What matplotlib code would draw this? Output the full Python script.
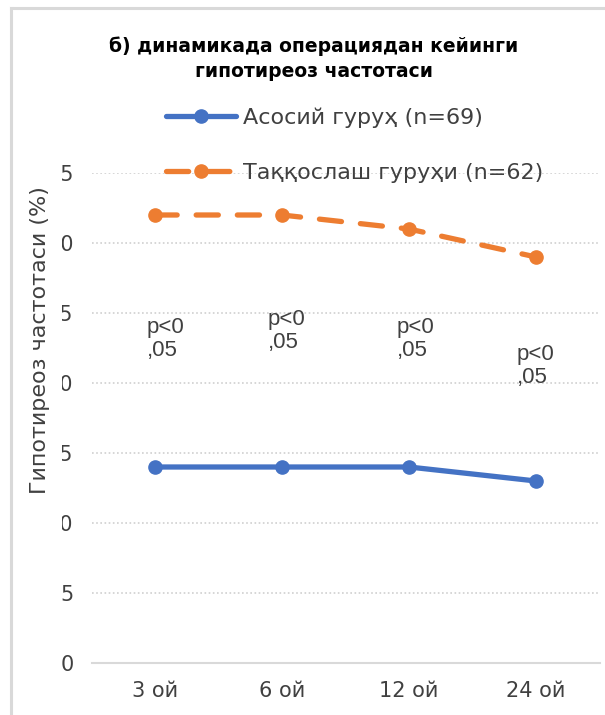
import matplotlib
matplotlib.use('Agg')
from matplotlib import pyplot as plt
from matplotlib.patches import Rectangle
import numpy as np

# data
months = ['3 ой', '6 ой', '12 ой', '24 ой']
asosiy = [14, 14, 14, 13]
taqqoslash = [32, 32, 31, 29]
p_labels = ['p<0\n,05', 'p<0\n,05', 'p<0\n,05', 'p<0\n,05']
y_ticks = [0, 5, 10, 15, 20, 25, 30, 35]

blue = '#4472C4'
orange = '#ED7D31'

W, H = 605, 715
fig = plt.figure(figsize=(W / 100, H / 100), dpi=100)

# outer chart frame (only top/left visible in crop)
fig.add_artist(plt.Line2D([11 / W, 11 / W], [0, 1 - 8 / H], color='#d9d9d9', lw=2.2,
                          transform=fig.transFigure))
fig.add_artist(plt.Line2D([11 / W, 1], [1 - 8 / H, 1 - 8 / H], color='#d9d9d9', lw=2.2,
                          transform=fig.transFigure))

ax = fig.add_axes([91.5 / W, 1 - 663 / H, 508 / W, 490 / H])
x = np.arange(len(months))

ax.plot(x, asosiy, color=blue, lw=3.8, marker='o', ms=9.5,
        solid_capstyle='round', label='Асосий гуруҳ (n=69)', zorder=3)
ax.plot(x, taqqoslash, color=orange, lw=3.8, marker='o', ms=9.5,
        linestyle=(0, (4.2, 3.6)), dash_capstyle='round',
        label='Таққослаш гуруҳи (n=62)', zorder=3)

# p-value annotations
p_dx = [-0.063, -0.11, -0.095, -0.15]
p_y = [24.7, 25.3, 24.7, 22.8]
for i, lab in enumerate(p_labels):
    ax.text(x[i] + p_dx[i], p_y[i], lab, family='Liberation Sans', fontsize=16,
            color='#404040', va='top', ha='left', linespacing=1.12)

ax.set_xlim(-0.5, len(months) - 0.5)
ax.set_ylim(0, 35)
ax.set_xticks(x)
ax.set_xticklabels(months)
ax.set_yticks(y_ticks)
ax.set_yticklabels([str(v) for v in y_ticks])
ax.tick_params(axis='both', length=0, labelsize=15, labelcolor='#404040')
ax.tick_params(axis='y', pad=13)
ax.tick_params(axis='x', pad=13)
for s in ['top', 'right', 'left']:
    ax.spines[s].set_visible(False)
ax.spines['bottom'].set_color('#d9d9d9')
ax.spines['bottom'].set_linewidth(1.5)
ax.yaxis.grid(True, color='#d0d0d0', linestyle=(0, (1, 1.5)), lw=1.2)
ax.set_axisbelow(True)

# axis title box hides the leading digits of tick labels
fig.add_artist(Rectangle((14 / W, 1 - 540 / H), 48 / W, 385 / H, transform=fig.transFigure,
                         facecolor='white', edgecolor='none', zorder=5))
fig.text(40 / W, 1 - 340 / H, 'Гипотиреоз частотаси (%)', rotation=90, ha='center',
         va='center', fontsize=16, color='#404040', zorder=6)

fig.text(314 / W, 1 - 59 / H, 'б) динамикада операциядан кейинги\nгипотиреоз частотаси',
         ha='center', va='center', fontsize=13.5, fontweight='bold', linespacing=1.4)

leg = fig.legend(loc='upper left', bbox_to_anchor=(166 / W, 1 - 107 / H), frameon=False,
                 fontsize=16, handlelength=3.15, labelspacing=1.6, handletextpad=0.3,
                 borderaxespad=0, borderpad=0)
for t in leg.get_texts():
    t.set_color('#404040')

fig.savefig('out.png', dpi=100)
